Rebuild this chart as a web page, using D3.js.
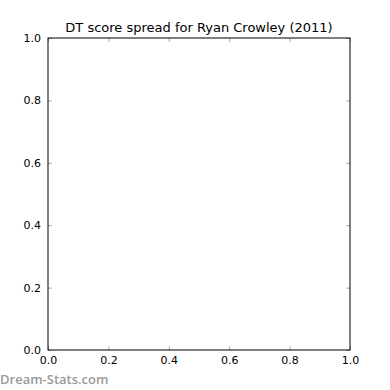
<!DOCTYPE html>
<html>
<head>
<meta charset="utf-8">
<script src="https://cdn.jsdelivr.net/npm/d3@7"></script>
<style>
  body { margin: 0; background: #fff; }
  text { font-family: "DejaVu Sans", sans-serif; }
</style>
</head>
<body>
<script>
// Chart data (empty plot: only axis ranges and ticks)
const title = "DT score spread for Ryan Crowley (2011)";
const xDomain = [0, 1];
const yDomain = [0, 1];
const xTicks = [0, 0.2, 0.4, 0.6, 0.8, 1.0];
const yTicks = [0, 0.2, 0.4, 0.6, 0.8, 1.0];

let width = 390;
let height = 390;
let margin = { top: 38, bottom: 40, left: 48, right: 40 };

let svg = d3.select("body")
  .append("svg")
  .attr("width", width)
  .attr("height", height)
  .style("background", "white");

let xScale = d3.scaleLinear()
  .domain(xDomain)
  .range([margin.left, width - margin.right]);

let yScale = d3.scaleLinear()
  .domain(yDomain)
  .range([height - margin.bottom, margin.top]);

const fmt = d3.format(".1f");

// ticks pointing inward on all four sides
function styleAxis(g) {
  g.select(".domain").remove();
  g.selectAll(".tick line").attr("stroke", "#aaa").attr("stroke-width", 1);
  g.selectAll(".tick text").attr("fill", "#000").style("font-size", "11px");
}

svg.append("g")
  .attr("transform", `translate(0, ${height - margin.bottom})`)
  .call(d3.axisBottom(xScale).tickValues(xTicks).tickFormat(fmt).tickSizeInner(-4).tickSizeOuter(0).tickPadding(6))
  .call(styleAxis);

svg.append("g")
  .attr("transform", `translate(0, ${margin.top})`)
  .call(d3.axisTop(xScale).tickValues(xTicks).tickFormat("").tickSizeInner(-4).tickSizeOuter(0))
  .call(styleAxis);

svg.append("g")
  .attr("transform", `translate(${margin.left}, 0)`)
  .call(d3.axisLeft(yScale).tickValues(yTicks).tickFormat(fmt).tickSizeInner(-4).tickSizeOuter(0).tickPadding(7))
  .call(styleAxis);

svg.append("g")
  .attr("transform", `translate(${width - margin.right}, 0)`)
  .call(d3.axisRight(yScale).tickValues(yTicks).tickFormat("").tickSizeInner(-4).tickSizeOuter(0))
  .call(styleAxis);

// axes frame
svg.append("rect")
  .attr("x", xScale(0))
  .attr("y", yScale(1))
  .attr("width", xScale(1) - xScale(0))
  .attr("height", yScale(0) - yScale(1))
  .attr("fill", "none")
  .attr("stroke", "#000")
  .attr("stroke-width", 1);

// title
svg.append("text")
  .attr("x", (xScale(0) + xScale(1)) / 2)
  .attr("y", margin.top - 6)
  .attr("text-anchor", "middle")
  .style("font-size", "13px")
  .text(title);

// watermark
svg.append("text")
  .attr("x", 0)
  .attr("y", 384)
  .style("font-family", "'Open Sans', sans-serif")
  .style("font-size", "13px")
  .style("font-weight", "600")
  .attr("fill", "#999")
  .text("Dream-Stats.com");
</script>
</body>
</html>
